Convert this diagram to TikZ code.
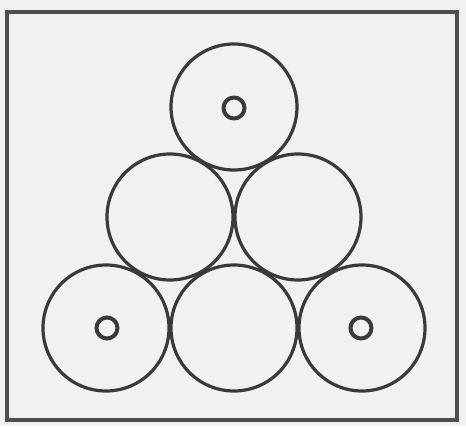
\documentclass[tikz,border=0pt]{standalone}
\begin{document}
\begin{tikzpicture}[x=1pt,y=-1pt,
  roll/.style={circle,draw=ink,line width=3.2pt,minimum size=126pt,inner sep=0pt},
  hole/.style={circle,draw=ink,line width=4pt,minimum size=21pt,inner sep=0pt},
  ]
\definecolor{ink}{HTML}{3A3A3A}
\definecolor{paper}{HTML}{F1F1F1}
\useasboundingbox (0,0) rectangle (466,426);
\fill[paper] (0,0) rectangle (466,426);
\draw[ink!90,line width=3.5pt] (7,12) rectangle (457,420);
\node[roll] (t)  at (234,107) {};
\node[roll] (ml) at (170,217) {};
\node[roll] (mr) at (298,217) {};
\node[roll] (bl) at (106,328) {};
\node[roll] (bm) at (234,328) {};
\node[roll] (br) at (362,328) {};
\node[hole] (th) at (234,108) {};
\node[hole] (blh) at (107,328) {};
\node[hole] (brh) at (361,328) {};
\end{tikzpicture}
\end{document}
